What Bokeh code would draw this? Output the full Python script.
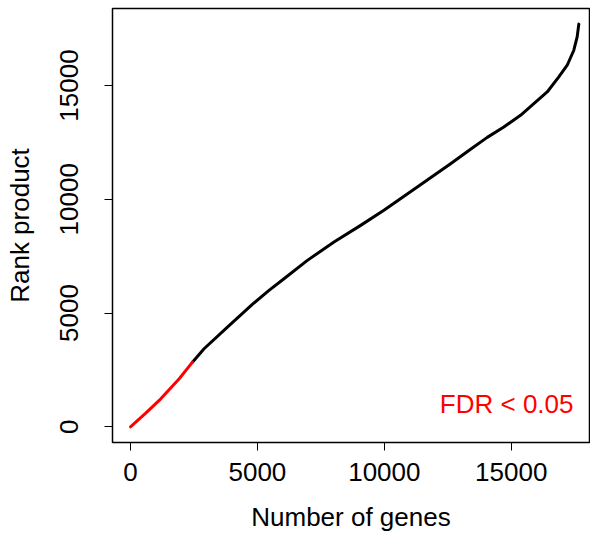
from bokeh.plotting import figure
from bokeh.models import Range1d, FixedTicker, Label
from bokeh.embed import file_html
from bokeh.resources import INLINE

# Significant genes (FDR < 0.05), red segment
sig_genes = [0, 600, 1193, 1920, 2441]
sig_rank = [0, 600, 1231, 2111, 2841]

# Remaining genes, black segment
rest_genes = [2441, 2898, 3819, 4800, 5457, 6047, 6968, 8017, 9067, 9984, 11299,
              12610, 13398, 14055, 14708, 15366, 15890, 16417, 16874, 17205,
              17465, 17597, 17662]
rest_rank = [2841, 3431, 4380, 5380, 5995, 6509, 7314, 8119, 8853, 9513, 10538,
             11564, 12200, 12720, 13178, 13690, 14204, 14716, 15376, 15890,
             16550, 17135, 17697]

x_ticks = [0, 5000, 10000, 15000]
y_ticks = [0, 5000, 10000, 15000]

FONT = "Liberation Sans"

p = figure(width=590, height=534, output_backend="svg", toolbar_location=None,
           x_range=Range1d(-709, 18083), y_range=Range1d(-690, 18384),
           min_border_left=112, min_border_right=1, min_border_top=8, min_border_bottom=92)

p.line(rest_genes, rest_rank, line_color="black", line_width=3,
       line_join="round", line_cap="round")
p.line(sig_genes, sig_rank, line_color="red", line_width=3,
       line_join="round", line_cap="round")

p.add_layout(Label(x=17453, y=321, text="FDR < 0.05", text_color="red",
                   text_font=FONT, text_font_size="26px", text_align="right",
                   text_baseline="bottom"))

p.xgrid.visible = False
p.ygrid.visible = False
p.outline_line_color = "black"
p.outline_line_width = 1.5
p.background_fill_color = "white"
p.border_fill_color = "white"

for ax, ticks in ((p.xaxis[0], x_ticks), (p.yaxis[0], y_ticks)):
    ax.ticker = FixedTicker(ticks=ticks)
    ax.minor_tick_line_color = None
    ax.axis_line_color = None
    ax.major_tick_in = 0
    ax.major_tick_out = 8
    ax.major_tick_line_color = "black"
    ax.major_label_text_font = FONT
    ax.major_label_text_font_size = "26px"
    ax.major_label_text_color = "black"
    ax.axis_label_text_font = FONT
    ax.axis_label_text_font_size = "26px"
    ax.axis_label_text_font_style = "normal"
    ax.axis_label_text_color = "black"

p.xaxis.axis_label = "Number of genes"
p.yaxis.axis_label = "Rank product"
p.yaxis.major_label_orientation = "vertical"
p.xaxis.major_label_standoff = 12
p.xaxis.axis_label_standoff = 18
p.yaxis.major_label_standoff = 26
p.yaxis.axis_label_standoff = 23

open("out.html", "w").write(file_html(p, INLINE))
